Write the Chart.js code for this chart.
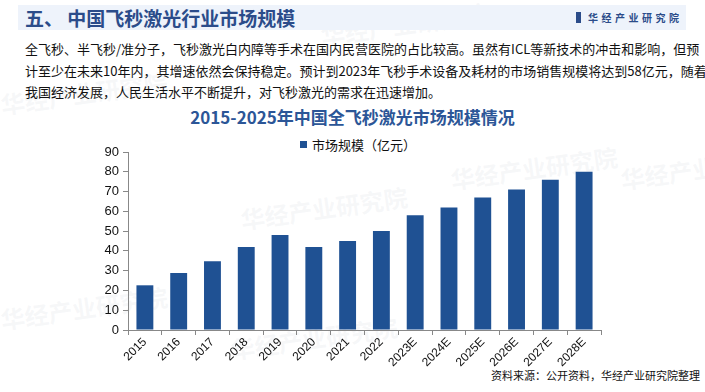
<!DOCTYPE html>
<html>
<head>
<meta charset="utf-8">
<script src="https://cdn.jsdelivr.net/npm/chart.js@4.4.0/dist/chart.umd.min.js"></script>
<style>
  html, body { margin: 0; padding: 0; background: #fff; }
  #page { position: relative; width: 705px; height: 392px; overflow: hidden; font-family: "Noto Sans CJK SC", sans-serif; }
  #head { position: absolute; left: 18px; top: 5px; width: 668px; height: 25px; background: #eef3fb; }
  #headTitle { position: absolute; left: 7px; top: 0; line-height: 25px; font-size: 19px; font-weight: bold; color: #2b4c8a; }
  #logo { position: absolute; left: 558px; top: 0; line-height: 25px; font-size: 10px; font-weight: bold; color: #2b4c8a; letter-spacing: 3.5px; }
  #logo span { display: inline-block; width: 5px; height: 11px; background: #2b4c8a; margin-right: 7px; vertical-align: -1px; }
  .para { position: absolute; left: 25px; font-size: 13px; color: #111; white-space: nowrap; line-height: 18px; }
  #chartTitle { position: absolute; left: 0; width: 705px; top: 105px; text-align: center; font-size: 17px; font-weight: bold; color: #2c5697; line-height: 24px; }
  #legend { position: absolute; left: 300px; top: 136px; font-size: 13px; color: #111; line-height: 18px; white-space: nowrap; }
  #legend i { display: inline-block; width: 7px; height: 7px; background: #1f5193; margin-right: 5px; vertical-align: 2px; }
  #source { position: absolute; left: 491px; top: 367px; font-size: 11px; color: #111; white-space: nowrap; line-height: 16px; }
  .wm { position: absolute; font-size: 24px; font-weight: bold; color: rgba(200, 205, 215, 0.16); transform: rotate(-8deg); white-space: nowrap; }
  #chartBox { position: absolute; left: 0; top: 0; width: 705px; height: 392px; }
</style>
</head>
<body>
<div id="page">
  <div class="wm" style="left:320px;top:6px;">华经产业研究院</div>
  <div class="wm" style="left:0px;top:75px;">华经产业研究院</div>
  <div class="wm" style="left:240px;top:190px;">华经产业研究院</div>
  <div class="wm" style="left:450px;top:150px;">华经产业研究院</div>
  <div class="wm" style="left:620px;top:150px;">华经产业研究院</div>
  <div class="wm" style="left:230px;top:320px;">华经产业研究院</div>
  <div class="wm" style="left:0px;top:290px;">华经产业研究院</div>
  <div id="head">
    <div id="headTitle">五、 中国飞秒激光行业市场规模</div>
    <div id="logo"><span></span>华经产业研究院</div>
  </div>
  <div class="para" style="top:40px;">全飞秒、半飞秒/准分子，飞秒激光白内障等手术在国内民营医院的占比较高。虽然有ICL等新技术的冲击和影响，但预</div>
  <div class="para" style="top:62px;">计至少在未来10年内，其增速依然会保持稳定。预计到2023年飞秒手术设备及耗材的市场销售规模将达到58亿元，随着</div>
  <div class="para" style="top:83px;">我国经济发展，人民生活水平不断提升，对飞秒激光的需求在迅速增加。</div>
  <div id="chartTitle">2015-2025年中国全飞秒激光市场规模情况</div>
  <div id="legend"><i></i>市场规模（亿元）</div>
  <div id="source">资料来源：公开资料，华经产业研究院整理</div>
  <div id="chartBox"><canvas id="barChart"></canvas></div>
</div>
<script>
var years = ['2015', '2016', '2017', '2018', '2019', '2020', '2021', '2022', '2023E', '2024E', '2025E', '2026E', '2027E', '2028E'];
var marketSize = [22.6, 28.8, 34.8, 42, 48, 42, 45, 50, 58, 62, 67, 71, 76, 80];
var yTicks = [0, 10, 20, 30, 40, 50, 60, 70, 80, 90];

var barData = {
    labels: years,
    datasets: [{
        label: '市场规模（亿元）',
        data: marketSize,
        backgroundColor: '#1f5193',
        borderWidth: 0,
        barPercentage: 0.5,
        categoryPercentage: 1.0
    }]
};

var barConfig = {
    type: 'bar',
    data: barData,
    options: {
        responsive: false,
        animation: false,
        layout: {
            padding: { left: 86, right: 104, top: 152, bottom: 10 }
        },
        plugins: {
            legend: { display: false },
            tooltip: { enabled: false }
        },
        scales: {
            x: {
                grid: { display: true, drawOnChartArea: false, drawTicks: true, tickLength: 5, color: '#888', offset: true },
                border: { color: '#888' },
                ticks: {
                    minRotation: 45, maxRotation: 45,
                    color: '#111',
                    font: { family: 'Liberation Sans', size: 12 },
                    padding: 0
                },
                afterFit: function (scale) { scale.height = 52; }
            },
            y: {
                min: 0,
                max: 90,
                afterBuildTicks: function (scale) {
                    scale.ticks = yTicks.map(function (v) { return { value: v }; });
                },
                grid: { display: true, drawOnChartArea: false, drawTicks: true, tickLength: 5, color: '#888' },
                border: { color: '#888' },
                ticks: {
                    color: '#111',
                    font: { family: 'Liberation Sans', size: 13 },
                    padding: 4
                },
                afterFit: function (scale) { scale.width = 42; }
            }
        }
    }
};

var canvas = document.getElementById('barChart');
canvas.width = 705;
canvas.height = 392;
canvas.style.width = '705px';
canvas.style.height = '392px';

var barChart = new Chart(canvas, barConfig);
</script>
</body>
</html>
